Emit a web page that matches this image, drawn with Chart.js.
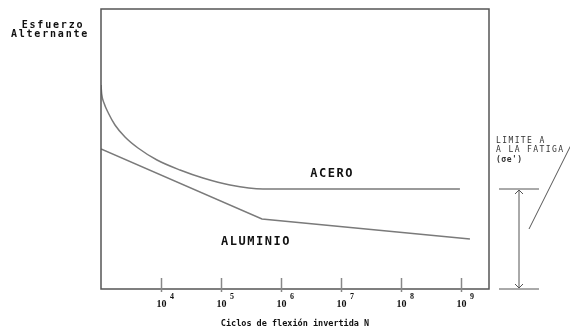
<!DOCTYPE html>
<html><head><meta charset="utf-8">
<script src="https://cdn.jsdelivr.net/npm/chart.js@4.4.0/dist/chart.umd.min.js"></script>
<style>html,body{margin:0;padding:0;background:#fff;overflow:hidden}</style>
</head><body>
<canvas id="c" width="570" height="335" style="width:570px;height:335px;display:block"></canvas>
<script>
// ---- data ----
const tickValues = [1e4, 1e5, 1e6, 1e7, 1e8, 1e9];
const tickBase = '10';
const tickExponents = ['4', '5', '6', '7', '8', '9'];
const aceroN = [1000, 1027, 1122, 1324, 1711, 2512, 4140, 8577, 20740, 50119, 141254, 501187, 9.6e8];
const aceroS = [204, 195, 186, 176, 164, 152, 141, 129, 119, 111, 104, 100, 100];
const aluminioN = [1000, 482000, 1.41e9];
const aluminioS = [140, 70, 50];
const fatigueLimit = 100;
const seriesLabels = ['ACERO', 'ALUMINIO'];
const labelAt = [[7.1e6, 115], [3.83e5, 47]];
const yTitle = ['Esfuerzo', 'Alternante'];
const xTitle = 'Ciclos de flexión invertida N';
const limitText = ['LIMITE A', 'A LA FATIGA', "(σe')"];

const toPts = (xs, ys) => xs.map((v, i) => ({x: v, y: ys[i]}));

const deco = {
  id: 'deco',
  afterDraw(chart) {
    const {ctx, chartArea: a, scales: {x, y}} = chart;
    ctx.save();
    // frame
    ctx.strokeStyle = '#555'; ctx.lineWidth = 1.5;
    ctx.strokeRect(a.left, a.top, a.right - a.left, a.bottom - a.top);
    // inner tick marks + labels with superscript exponents
    tickValues.forEach((v, i) => {
      const px = Math.round(x.getPixelForValue(v)) + 0.5;
      ctx.strokeStyle = '#888'; ctx.lineWidth = 1.5;
      ctx.beginPath(); ctx.moveTo(px, a.bottom - 11); ctx.lineTo(px, a.bottom + 3); ctx.stroke();
      ctx.fillStyle = '#111';
      ctx.textBaseline = 'alphabetic';
      ctx.textAlign = 'center';
      ctx.font = 'bold 10px "Liberation Serif"';
      ctx.fillText(tickBase, px, a.bottom + 18);
      ctx.textAlign = 'left';
      ctx.font = 'bold 8px "Liberation Serif"';
      ctx.fillText(tickExponents[i], px + 8.5, a.bottom + 9.5);
    });
    // series labels
    ctx.fillStyle = '#111';
    ctx.font = 'bold 12px "DejaVu Sans Mono"';
    ctx.letterSpacing = '1.5px';
    ctx.textAlign = 'center'; ctx.textBaseline = 'middle';
    seriesLabels.forEach((t, i) => {
      ctx.fillText(t, x.getPixelForValue(labelAt[i][0]), y.getPixelForValue(labelAt[i][1]));
    });
    // y title
    ctx.font = 'bold 10px "DejaVu Sans Mono"';
    ctx.letterSpacing = '1.8px';
    ctx.fillText(yTitle[0], 53, 25);
    ctx.fillText(yTitle[1], 50, 34);
    // fatigue limit annotation
    const yTop = y.getPixelForValue(fatigueLimit), yBot = y.getPixelForValue(0);
    const xl = a.right + 10, xr = a.right + 50, xm = a.right + 30;
    ctx.strokeStyle = '#555'; ctx.lineWidth = 1;
    ctx.beginPath();
    ctx.moveTo(xl, yTop); ctx.lineTo(xr, yTop);
    ctx.moveTo(xl, yBot); ctx.lineTo(xr, yBot);
    ctx.moveTo(xm, yTop + 1); ctx.lineTo(xm, yBot - 1);
    ctx.moveTo(xm - 4, yTop + 5); ctx.lineTo(xm, yTop + 1); ctx.lineTo(xm + 4, yTop + 5);
    ctx.moveTo(xm - 4, yBot - 5); ctx.lineTo(xm, yBot - 1); ctx.lineTo(xm + 4, yBot - 5);
    ctx.moveTo(a.right + 40, yTop + 40); ctx.lineTo(a.right + 83, yTop - 46);
    ctx.stroke();
    ctx.fillStyle = '#333';
    ctx.font = '8px "DejaVu Sans Mono"';
    ctx.letterSpacing = '1.4px';
    ctx.textAlign = 'left';
    ctx.fillText(limitText[0], a.right + 7, 141);
    ctx.fillText(limitText[1], a.right + 7, 150);
    ctx.font = 'bold 8px "DejaVu Sans Mono"';
    ctx.letterSpacing = '0.5px';
    ctx.fillText(limitText[2], a.right + 7, 160);
    ctx.restore();
  }
};

new Chart(document.getElementById('c'), {
  type: 'line',
  data: {
    datasets: [
      {label: seriesLabels[0], data: toPts(aceroN, aceroS), borderColor: '#7a7a7a', borderWidth: 1.5,
       pointRadius: 0, cubicInterpolationMode: 'monotone', fill: false},
      {label: seriesLabels[1], data: toPts(aluminioN, aluminioS), borderColor: '#7a7a7a', borderWidth: 1.5,
       pointRadius: 0, tension: 0, fill: false}
    ]
  },
  options: {
    responsive: false, animation: false, events: [],
    layout: {padding: {left: 101, right: 81, top: 9, bottom: 0}},
    plugins: {legend: {display: false}, tooltip: {enabled: false}},
    scales: {
      x: {
        type: 'logarithmic', min: 1000, max: 2.93e9,
        afterBuildTicks: s => { s.ticks = tickValues.map(v => ({value: v})); },
        afterFit: s => { s.height = 46; },
        border: {display: false},
        grid: {display: false},
        ticks: {display: false},
        title: {display: true, text: xTitle, color: '#111',
          font: {family: '"DejaVu Sans Mono"', size: 8.5, weight: 'bold'}, padding: {top: 0, bottom: 6}}
      },
      y: {
        type: 'linear', min: 0, max: 280,
        afterFit: s => { s.width = 0; },
        border: {display: false},
        grid: {display: false},
        ticks: {display: false}
      }
    }
  },
  plugins: [deco]
});
</script>
</body></html>
